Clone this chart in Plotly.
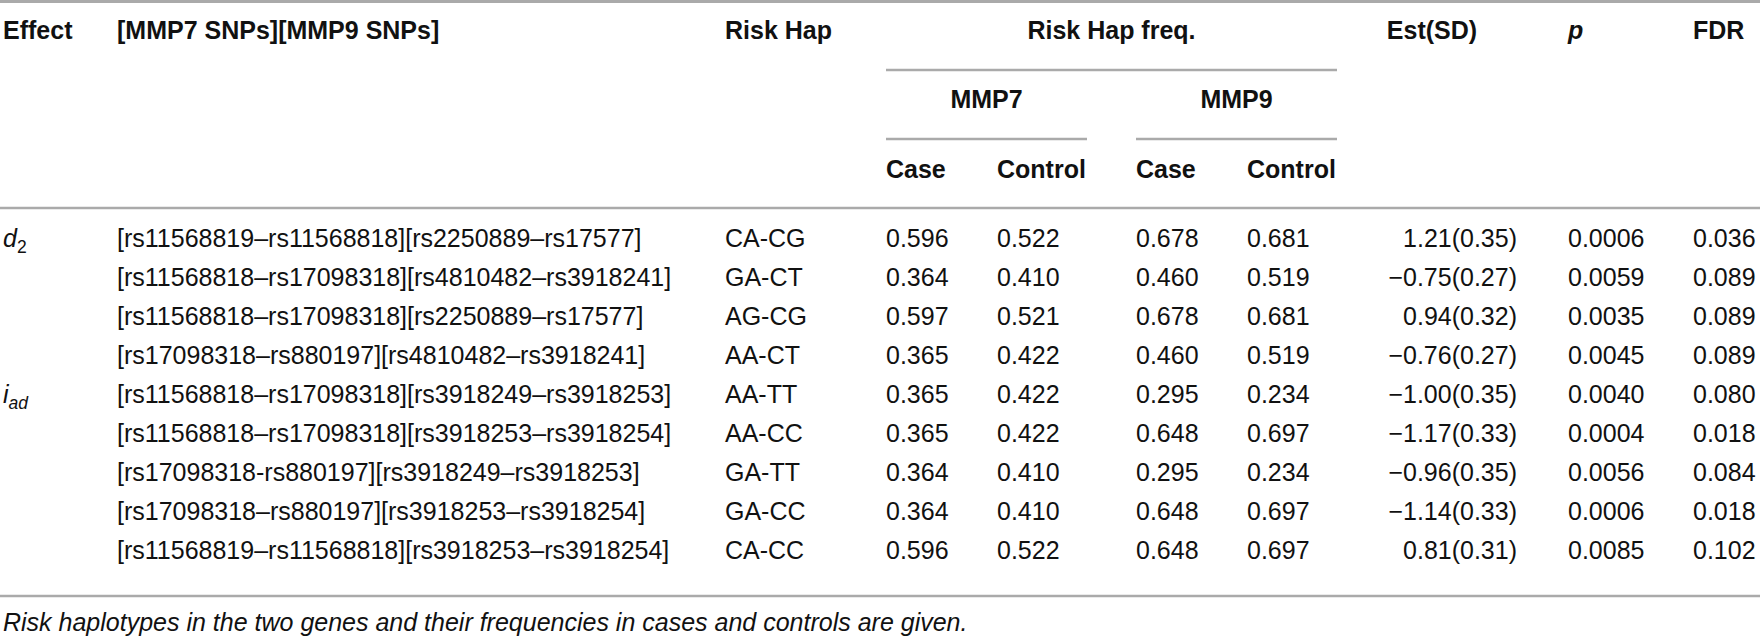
import plotly.graph_objects as go

# === Table content ===
effect_labels = ["<i>d</i><sub>2</sub>", "<i>i</i><sub><i>ad</i></sub>"]
effect_start_row = [0, 4]

snp_pairs = [
    "[rs11568819–rs11568818][rs2250889–rs17577]",
    "[rs11568818–rs17098318][rs4810482–rs3918241]",
    "[rs11568818–rs17098318][rs2250889–rs17577]",
    "[rs17098318–rs880197][rs4810482–rs3918241]",
    "[rs11568818–rs17098318][rs3918249–rs3918253]",
    "[rs11568818–rs17098318][rs3918253–rs3918254]",
    "[rs17098318-rs880197][rs3918249–rs3918253]",
    "[rs17098318–rs880197][rs3918253–rs3918254]",
    "[rs11568819–rs11568818][rs3918253–rs3918254]",
]

risk_hap = ["CA-CG", "GA-CT", "AG-CG", "AA-CT", "AA-TT",
            "AA-CC", "GA-TT", "GA-CC", "CA-CC"]

mmp7_case = [0.596, 0.364, 0.597, 0.365, 0.365, 0.365, 0.364, 0.364, 0.596]
mmp7_control = [0.522, 0.410, 0.521, 0.422, 0.422, 0.422, 0.410, 0.410, 0.522]
mmp9_case = [0.678, 0.460, 0.678, 0.460, 0.295, 0.648, 0.295, 0.648, 0.648]
mmp9_control = [0.681, 0.519, 0.681, 0.519, 0.234, 0.697, 0.234, 0.697, 0.697]

est = [1.21, -0.75, 0.94, -0.76, -1.00, -1.17, -0.96, -1.14, 0.81]
sd = [0.35, 0.27, 0.32, 0.27, 0.35, 0.33, 0.35, 0.33, 0.31]
p_values = [0.0006, 0.0059, 0.0035, 0.0045, 0.0040, 0.0004, 0.0056, 0.0006, 0.0085]
fdr = [0.036, 0.089, 0.089, 0.089, 0.080, 0.018, 0.084, 0.018, 0.102]

footnote = ("<i>Risk haplotypes in the two genes and their frequencies "
            "in cases and controls are given.</i>")

# === Layout (page pixels) ===
W, H = 1760, 643
FONT = "Liberation Sans, Arial, Helvetica, sans-serif"
SIZE = 25
TEXT_COLOR = "#111111"
RULE_COLOR = "#aaaaaa"

first_row_y = 241
row_pitch = 39
rows_y = [first_row_y + row_pitch * i for i in range(len(snp_pairs))]

col = dict(effect=3, snp=117, hap=725, c7=886, k7=997, c9=1136, k9=1247,
           est_right=1517, est_head=1432, p=1568, fdr=1693)
freq_span = (886, 1337)
mmp7_span = (886, 1087)
mmp9_span = (1136, 1337)
head_y = [33, 102, 172]


def fmt_est(e, s):
    sign = "−" if e < 0 else ""
    return f"{sign}{abs(e):.2f}({s:.2f})"


fig = go.Figure()


def add_text(xs, ys, texts, position, bold=False):
    fig.add_trace(go.Scatter(
        x=xs, y=ys, text=[f"<b>{t}</b>" if bold else t for t in texts],
        mode="text", textposition=position, hoverinfo="skip",
        textfont=dict(family=FONT, size=SIZE, color=TEXT_COLOR),
    ))


n = len(rows_y)
# body columns
add_text([col["effect"]] * len(effect_labels),
         [rows_y[r] for r in effect_start_row], effect_labels, "middle right")
add_text([col["snp"]] * n, rows_y, snp_pairs, "middle right")
add_text([col["hap"]] * n, rows_y, risk_hap, "middle right")
for key, vals in [("c7", mmp7_case), ("k7", mmp7_control),
                  ("c9", mmp9_case), ("k9", mmp9_control)]:
    add_text([col[key]] * n, rows_y, [f"{v:.3f}" for v in vals], "middle right")
add_text([col["est_right"]] * n, rows_y,
         [fmt_est(e, s) for e, s in zip(est, sd)], "middle left")
add_text([col["p"]] * n, rows_y, [f"{v:.4f}" for v in p_values], "middle right")
add_text([col["fdr"]] * n, rows_y, [f"{v:.3f}" for v in fdr], "middle right")

# header
add_text([col["effect"], col["snp"], col["hap"]], [head_y[0]] * 3,
         ["Effect", "[MMP7 SNPs][MMP9 SNPs]", "Risk Hap"], "middle right", bold=True)
add_text([col["p"]], [head_y[0]], ["<i>p</i>"], "middle right", bold=True)
add_text([col["fdr"]], [head_y[0]], ["FDR"], "middle right", bold=True)
add_text([sum(freq_span) / 2, col["est_head"]], [head_y[0]] * 2,
         ["Risk Hap freq.", "Est(SD)"], "middle center", bold=True)
add_text([sum(mmp7_span) / 2, sum(mmp9_span) / 2], [head_y[1]] * 2,
         ["MMP7", "MMP9"], "middle center", bold=True)
add_text([col["c7"], col["k7"], col["c9"], col["k9"]], [head_y[2]] * 4,
         ["Case", "Control", "Case", "Control"], "middle right", bold=True)

# footnote
add_text([col["effect"]], [625], [footnote], "middle right")

# rules
rules = [
    (0, W, 1.5, 3),
    (freq_span[0], freq_span[1], 70, 2.5),
    (mmp7_span[0], mmp7_span[1], 139, 2.5),
    (mmp9_span[0], mmp9_span[1], 139, 2.5),
    (0, W, 208, 2.5),
    (0, W, 596, 2.5),
]
for x0, x1, y, w in rules:
    fig.add_shape(type="line", x0=x0, x1=x1, y0=y, y1=y, xref="x", yref="y",
                  line=dict(color=RULE_COLOR, width=w))

fig.update_layout(
    width=W, height=H, margin=dict(l=0, r=0, t=0, b=0),
    paper_bgcolor="white", plot_bgcolor="white", showlegend=False,
    xaxis=dict(range=[0, W], visible=False, fixedrange=True),
    yaxis=dict(range=[H, 0], visible=False, fixedrange=True),
)

# drop the default body margin so the 1760x643 figure fills the window
fig.write_html("out.html", config={"displayModeBar": False},
               post_script="document.body.style.margin='0';")
